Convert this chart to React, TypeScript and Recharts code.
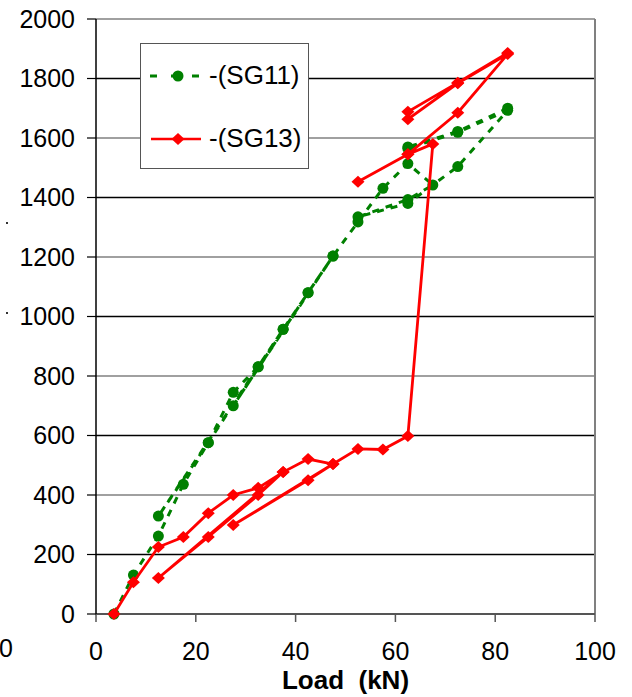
import React from "react";
import {
  ScatterChart,
  Scatter,
  XAxis,
  YAxis,
  CartesianGrid,
  ReferenceLine,
} from "recharts";

// load steps (kN), same sequence for both gauges (loading / unloading cycles)
const loadSteps = [
  3.6, 7.5, 12.5, 17.5, 22.5, 27.5, 32.5, 37.5, 12.5, 22.5, 32.5, 37.5, 42.5, 47.5, 27.5, 42.5,
  47.5, 52.5, 57.5, 62.5, 67.5, 62.5, 52.5, 62.5, 72.5, 82.5, 72.5, 62.5, 62.5, 72.5, 82.5,
];

// microstrain readings
const sg11Values = [
  0, 131, 262, 436, 576, 745, 831, 957, 329, 576, 831, 957, 1080, 1203, 700, 1080,
  1203, 1318, 1431, 1514, 1442, 1393, 1335, 1380, 1504, 1693, 1619, 1565, 1570, 1622, 1700,
];
const sg13Values = [
  0, 107, 225, 259, 339, 400, 424, 477, 121, 259, 400, 477, 521, 504, 299, 450,
  504, 555, 553, 598, 1580, 1545, 1453, 1545, 1685, 1882, 1784, 1663, 1688, 1786, 1886,
];

const xTicks = [0, 20, 40, 60, 80, 100];
const yTicks = [0, 200, 400, 600, 800, 1000, 1200, 1400, 1600, 1800, 2000];

const sg11 = loadSteps.map((x, i) => ({ x, y: sg11Values[i] }));
const sg13 = loadSteps.map((x, i) => ({ x, y: sg13Values[i] }));

const GREEN = "#008000";
const RED = "#ff0000";
const FONT = "'Liberation Sans', Arial, sans-serif";

const Dot = (p: any) => <circle cx={p.cx} cy={p.cy} r={5.5} fill={GREEN} />;
const Diamond = (p: any) => (
  <polygon
    points={`${p.cx},${p.cy - 6} ${p.cx + 6.5},${p.cy} ${p.cx},${p.cy + 6} ${p.cx - 6.5},${p.cy}`}
    fill={RED}
  />
);

const gridLine = (props: any) => (
  <line
    key={props.key}
    x1={props.x1}
    y1={props.y1}
    x2={props.x2}
    y2={props.y2}
    stroke={props.index % 2 === 0 ? "#808080" : "#000000"}
    strokeWidth={1.3}
  />
);

export default function App() {
  return (
    <div style={{ position: "absolute", left: 0, top: 0, width: 632, height: 697, background: "#fff" }}>
      <ScatterChart width={632} height={697} margin={{ top: 19, right: 37, bottom: 0, left: 0 }}>
        <CartesianGrid vertical={false} horizontal={gridLine} />
        <ReferenceLine x={100} stroke="#808080" strokeWidth={2} />
        <XAxis
          type="number"
          dataKey="x"
          domain={[0, 100]}
          ticks={xTicks}
          height={83}
          tickSize={8}
          tickMargin={20}
          axisLine={{ stroke: "#555", strokeWidth: 2 }}
          tickLine={{ stroke: "#555", strokeWidth: 1.5 }}
          tick={{ fill: "#000", fontSize: 25, fontFamily: FONT }}
          label={{
            value: "Load\u00a0\u00a0(kN)",
            position: "insideBottom",
            offset: 8,
            fill: "#000",
            fontSize: 26,
            fontWeight: "bold",
            fontFamily: FONT,
          }}
        />
        <YAxis
          type="number"
          dataKey="y"
          domain={[0, 2000]}
          ticks={yTicks}
          width={96}
          tickSize={9}
          tickMargin={12}
          axisLine={{ stroke: "#000", strokeWidth: 1.5 }}
          tickLine={{ stroke: "#000", strokeWidth: 1.2 }}
          tick={{ fill: "#000", fontSize: 25, fontFamily: FONT }}
        />
        <Scatter
          name="-(SG11)"
          data={sg11}
          fill={GREEN}
          line={{ stroke: GREEN, strokeWidth: 3, strokeDasharray: "7 7" }}
          shape={Dot}
          isAnimationActive={false}
        />
        <Scatter
          name="-(SG13)"
          data={sg13}
          fill={RED}
          line={{ stroke: RED, strokeWidth: 2.8 }}
          shape={Diamond}
          isAnimationActive={false}
        />
      </ScatterChart>

      {/* legend box */}
      <div
        style={{
          position: "absolute",
          left: 140,
          top: 43,
          width: 167,
          height: 124,
          border: "1.5px solid #555",
          background: "#fff",
          fontFamily: FONT,
          fontSize: 26,
          color: "#000",
        }}
      >
        <svg width={60} height={124} style={{ position: "absolute", left: 0, top: 0 }}>
          <line x1={9} y1={32} x2={63} y2={32} stroke={GREEN} strokeWidth={3} strokeDasharray="7 14" />
          <circle cx={37} cy={32} r={5.5} fill={GREEN} />
          <line x1={10} y1={95} x2={63} y2={95} stroke={RED} strokeWidth={2.5} />
          <polygon points="37,89 43.5,95 37,101 30.5,95" fill={RED} />
        </svg>
        <div style={{ position: "absolute", left: 68, top: 16, lineHeight: "30px" }}>-(SG11)</div>
        <div style={{ position: "absolute", left: 68, top: 79, lineHeight: "30px" }}>-(SG13)</div>
      </div>

      {/* stray label and specks at the left edge of the original */}
      <div
        style={{
          position: "absolute",
          left: -1,
          top: 633,
          fontFamily: FONT,
          fontSize: 25,
          lineHeight: "30px",
          color: "#000",
        }}
      >
        0
      </div>
      <div style={{ position: "absolute", left: 6, top: 222, width: 2, height: 2, background: "#333" }} />
      <div style={{ position: "absolute", left: 6, top: 312, width: 2, height: 2, background: "#333" }} />
    </div>
  );
}
